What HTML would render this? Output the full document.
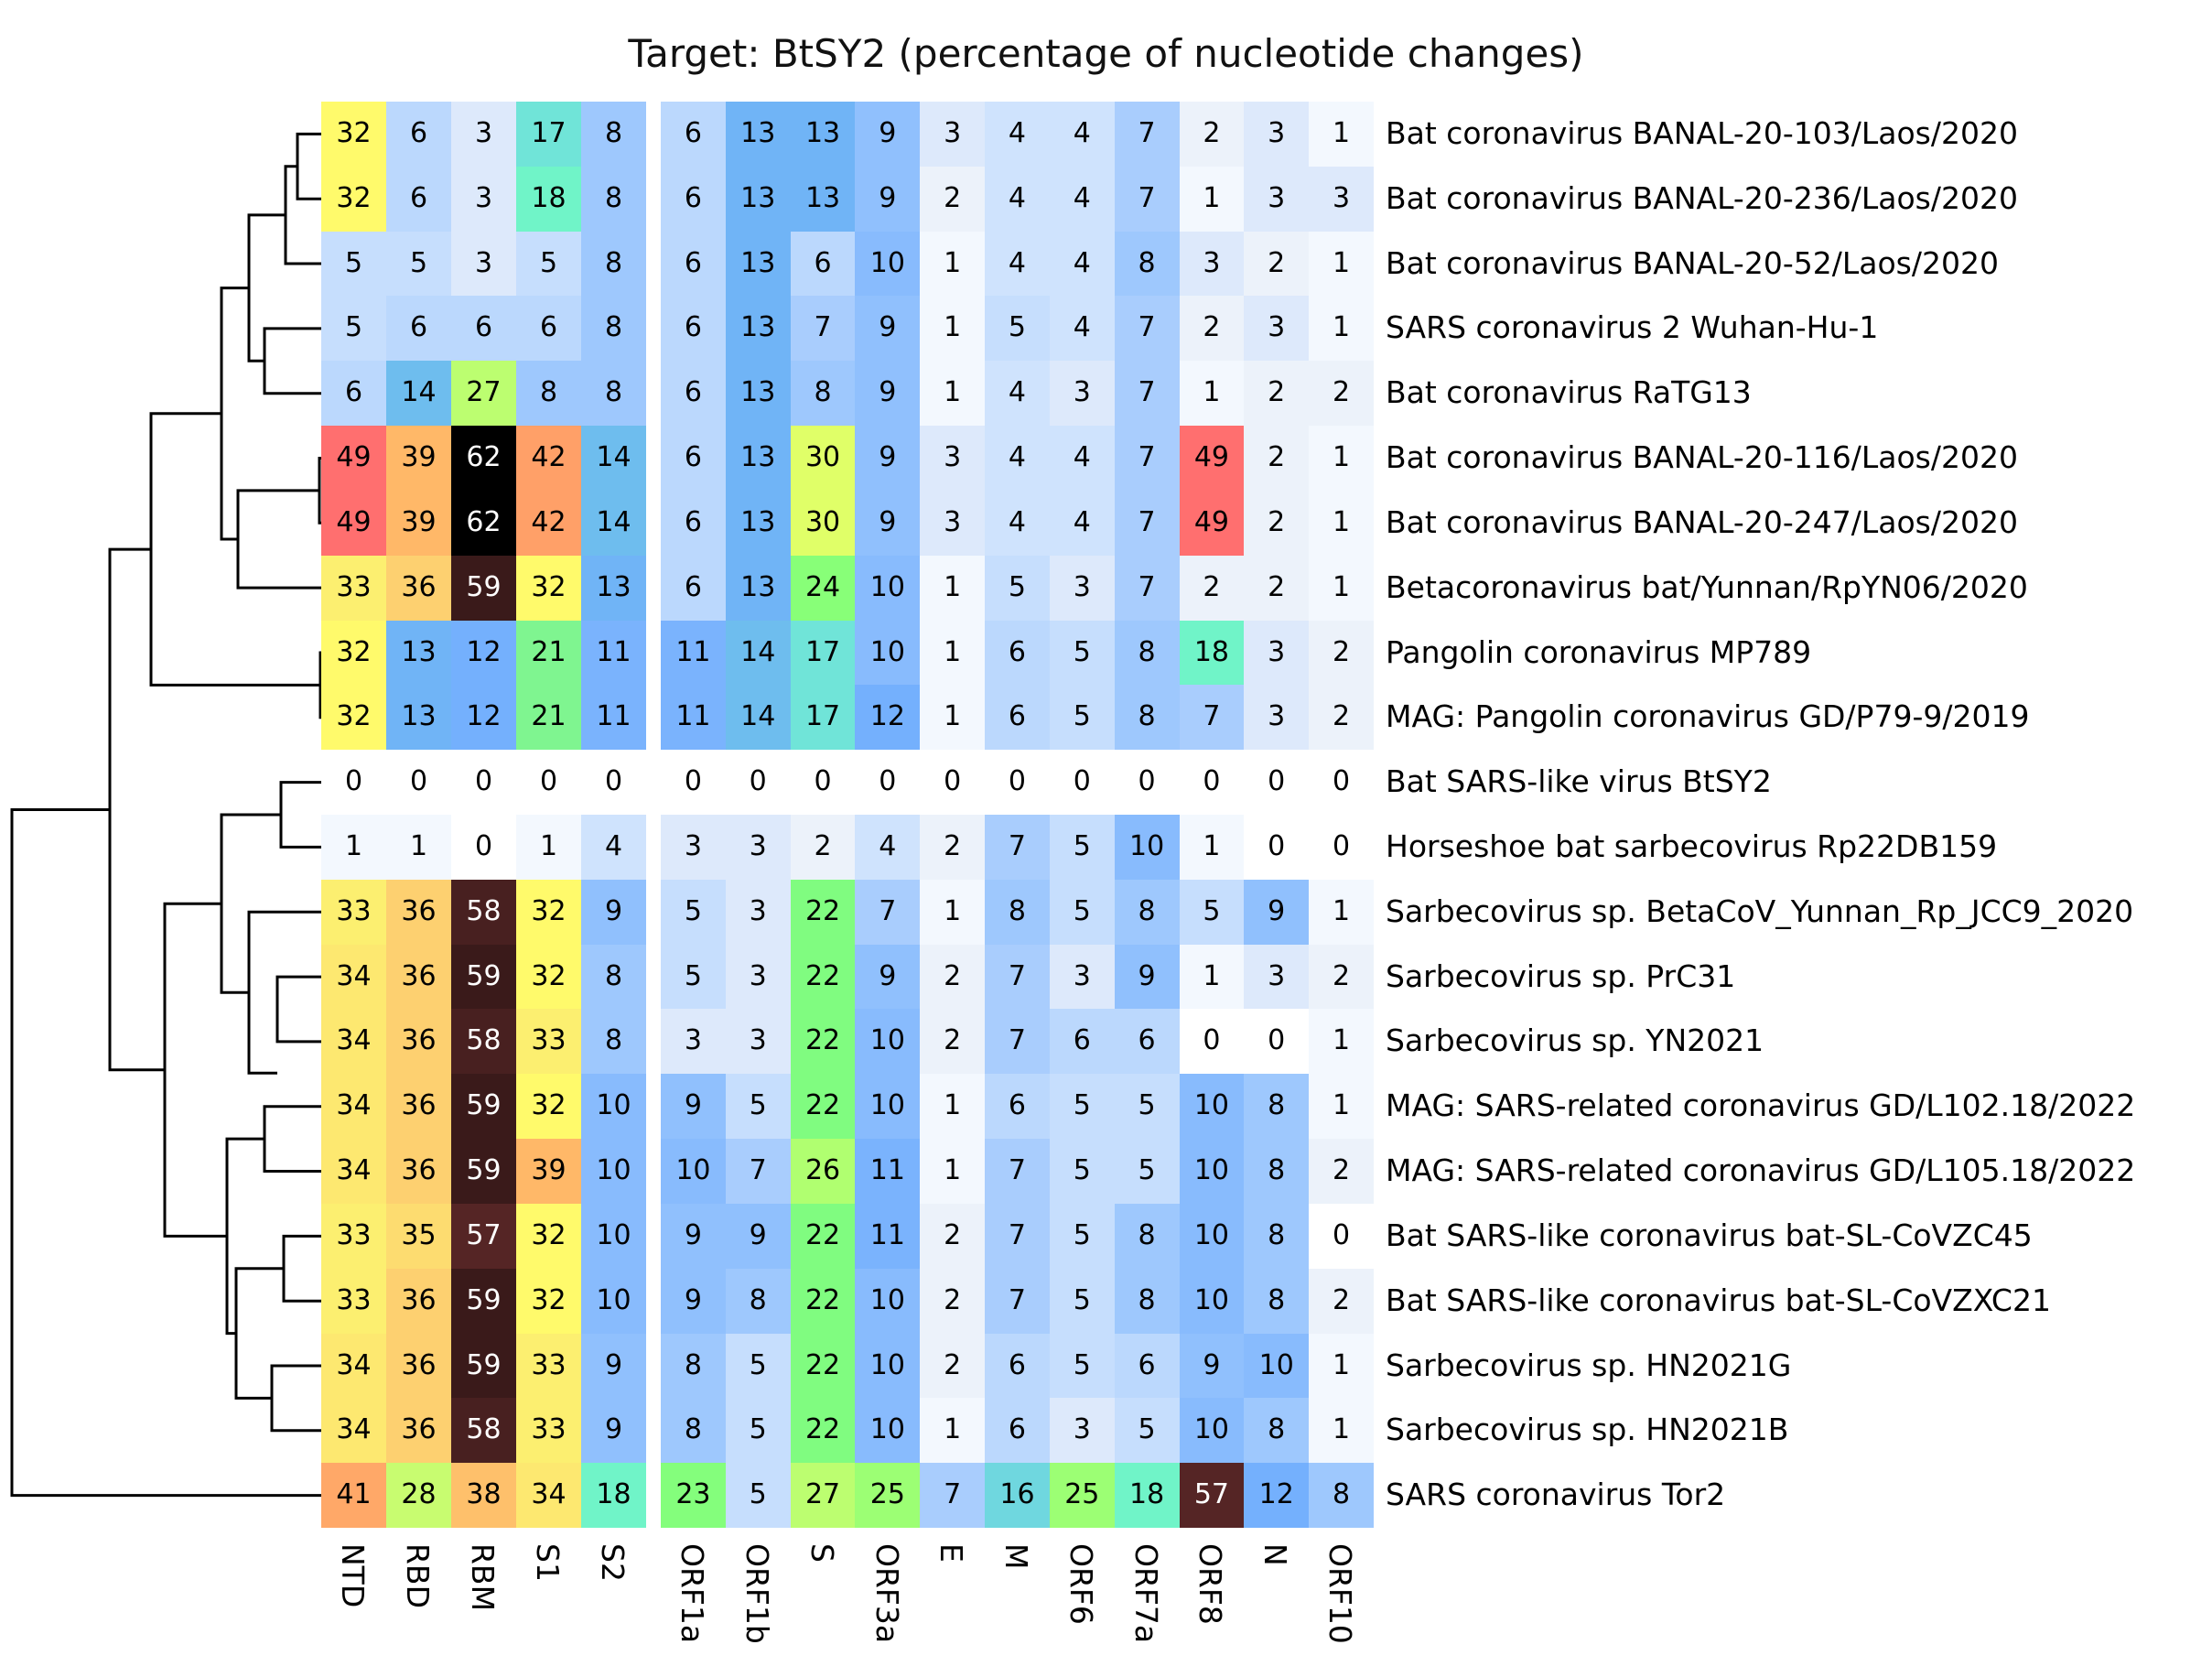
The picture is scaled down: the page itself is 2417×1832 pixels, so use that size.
<!DOCTYPE html>
<html><head><meta charset="utf-8"><style>
body{margin:0;width:2417px;height:1832px;background:#fff;position:relative;overflow:hidden;font-family:"DejaVu Sans","Liberation Sans",sans-serif}
.title{position:absolute;left:0;width:2417px;top:34px;text-align:center;font-size:42px;color:#111}
.row{position:absolute;left:351px;height:70.82px;display:flex}
.row i{font-style:normal;display:block;height:100%;line-height:70.82px;text-align:center;font-size:30px;color:#000;width:70.82px}
.row i:nth-child(-n+5){width:71px}
.row i:nth-child(6){margin-left:16px}
.lab{position:absolute;left:1514px;height:70.82px;line-height:70.82px;font-size:33px;color:#000;white-space:nowrap}
.col{position:absolute;top:1686px;font-size:33px;transform-origin:0 0;transform:rotate(90deg);white-space:nowrap}
</style></head><body>
<div class="title">Target: BtSY2 (percentage of nucleotide changes)</div>
<svg width="2417" height="1832" style="position:absolute;left:0;top:0">
<path fill="none" stroke="#000" stroke-width="3" d="
M351,146.4H325V217.2H351 M325,181.8H312V288H351
M351,358.9H289V429.7H351 M312,234.9H272V394.3H289
M351,500.5H349V571.3H351 M349,535.9H260V642.1H351
M272,314.6H242V589H260
M351,713H350V783.8H351 M242,451.8H165V748.4H350
M351,854.6H307V925.4H351
M351,1067.1H303V1137.9H351 M351,996.3H272V1172.3H303
M307,890H242V1084.3H272
M351,1208.7H289V1279.5H351
M351,1350.4H310V1421.2H351
M351,1492H297V1562.8H351
M310,1385.8H258V1527.4H297
M289,1244.1H248V1456.6H258
M242,987.2H180V1350.4H248
M165,600.1H120V1168.8H180
M120,884.5H13V1633.6H351"/>
</svg>
<div id="rows">
<div class="row" style="top:111px"><i>32</i><i>6</i><i>3</i><i>17</i><i>8</i><i>6</i><i>13</i><i>13</i><i>9</i><i>3</i><i>4</i><i>4</i><i>7</i><i>2</i><i>3</i><i>1</i></div>
<div class="row" style="top:181.82px"><i>32</i><i>6</i><i>3</i><i>18</i><i>8</i><i>6</i><i>13</i><i>13</i><i>9</i><i>2</i><i>4</i><i>4</i><i>7</i><i>1</i><i>3</i><i>3</i></div>
<div class="row" style="top:252.64px"><i>5</i><i>5</i><i>3</i><i>5</i><i>8</i><i>6</i><i>13</i><i>6</i><i>10</i><i>1</i><i>4</i><i>4</i><i>8</i><i>3</i><i>2</i><i>1</i></div>
<div class="row" style="top:323.46px"><i>5</i><i>6</i><i>6</i><i>6</i><i>8</i><i>6</i><i>13</i><i>7</i><i>9</i><i>1</i><i>5</i><i>4</i><i>7</i><i>2</i><i>3</i><i>1</i></div>
<div class="row" style="top:394.28px"><i>6</i><i>14</i><i>27</i><i>8</i><i>8</i><i>6</i><i>13</i><i>8</i><i>9</i><i>1</i><i>4</i><i>3</i><i>7</i><i>1</i><i>2</i><i>2</i></div>
<div class="row" style="top:465.1px"><i>49</i><i>39</i><i>62</i><i>42</i><i>14</i><i>6</i><i>13</i><i>30</i><i>9</i><i>3</i><i>4</i><i>4</i><i>7</i><i>49</i><i>2</i><i>1</i></div>
<div class="row" style="top:535.92px"><i>49</i><i>39</i><i>62</i><i>42</i><i>14</i><i>6</i><i>13</i><i>30</i><i>9</i><i>3</i><i>4</i><i>4</i><i>7</i><i>49</i><i>2</i><i>1</i></div>
<div class="row" style="top:606.74px"><i>33</i><i>36</i><i>59</i><i>32</i><i>13</i><i>6</i><i>13</i><i>24</i><i>10</i><i>1</i><i>5</i><i>3</i><i>7</i><i>2</i><i>2</i><i>1</i></div>
<div class="row" style="top:677.56px"><i>32</i><i>13</i><i>12</i><i>21</i><i>11</i><i>11</i><i>14</i><i>17</i><i>10</i><i>1</i><i>6</i><i>5</i><i>8</i><i>18</i><i>3</i><i>2</i></div>
<div class="row" style="top:748.38px"><i>32</i><i>13</i><i>12</i><i>21</i><i>11</i><i>11</i><i>14</i><i>17</i><i>12</i><i>1</i><i>6</i><i>5</i><i>8</i><i>7</i><i>3</i><i>2</i></div>
<div class="row" style="top:819.2px"><i>0</i><i>0</i><i>0</i><i>0</i><i>0</i><i>0</i><i>0</i><i>0</i><i>0</i><i>0</i><i>0</i><i>0</i><i>0</i><i>0</i><i>0</i><i>0</i></div>
<div class="row" style="top:890.02px"><i>1</i><i>1</i><i>0</i><i>1</i><i>4</i><i>3</i><i>3</i><i>2</i><i>4</i><i>2</i><i>7</i><i>5</i><i>10</i><i>1</i><i>0</i><i>0</i></div>
<div class="row" style="top:960.84px"><i>33</i><i>36</i><i>58</i><i>32</i><i>9</i><i>5</i><i>3</i><i>22</i><i>7</i><i>1</i><i>8</i><i>5</i><i>8</i><i>5</i><i>9</i><i>1</i></div>
<div class="row" style="top:1031.66px"><i>34</i><i>36</i><i>59</i><i>32</i><i>8</i><i>5</i><i>3</i><i>22</i><i>9</i><i>2</i><i>7</i><i>3</i><i>9</i><i>1</i><i>3</i><i>2</i></div>
<div class="row" style="top:1102.48px"><i>34</i><i>36</i><i>58</i><i>33</i><i>8</i><i>3</i><i>3</i><i>22</i><i>10</i><i>2</i><i>7</i><i>6</i><i>6</i><i>0</i><i>0</i><i>1</i></div>
<div class="row" style="top:1173.3px"><i>34</i><i>36</i><i>59</i><i>32</i><i>10</i><i>9</i><i>5</i><i>22</i><i>10</i><i>1</i><i>6</i><i>5</i><i>5</i><i>10</i><i>8</i><i>1</i></div>
<div class="row" style="top:1244.12px"><i>34</i><i>36</i><i>59</i><i>39</i><i>10</i><i>10</i><i>7</i><i>26</i><i>11</i><i>1</i><i>7</i><i>5</i><i>5</i><i>10</i><i>8</i><i>2</i></div>
<div class="row" style="top:1314.94px"><i>33</i><i>35</i><i>57</i><i>32</i><i>10</i><i>9</i><i>9</i><i>22</i><i>11</i><i>2</i><i>7</i><i>5</i><i>8</i><i>10</i><i>8</i><i>0</i></div>
<div class="row" style="top:1385.76px"><i>33</i><i>36</i><i>59</i><i>32</i><i>10</i><i>9</i><i>8</i><i>22</i><i>10</i><i>2</i><i>7</i><i>5</i><i>8</i><i>10</i><i>8</i><i>2</i></div>
<div class="row" style="top:1456.58px"><i>34</i><i>36</i><i>59</i><i>33</i><i>9</i><i>8</i><i>5</i><i>22</i><i>10</i><i>2</i><i>6</i><i>5</i><i>6</i><i>9</i><i>10</i><i>1</i></div>
<div class="row" style="top:1527.4px"><i>34</i><i>36</i><i>58</i><i>33</i><i>9</i><i>8</i><i>5</i><i>22</i><i>10</i><i>1</i><i>6</i><i>3</i><i>5</i><i>10</i><i>8</i><i>1</i></div>
<div class="row" style="top:1598.22px"><i>41</i><i>28</i><i>38</i><i>34</i><i>18</i><i>23</i><i>5</i><i>27</i><i>25</i><i>7</i><i>16</i><i>25</i><i>18</i><i>57</i><i>12</i><i>8</i></div>
</div>
<div class="lab" style="top:111px">Bat coronavirus BANAL-20-103/Laos/2020</div>
<div class="lab" style="top:181.82px">Bat coronavirus BANAL-20-236/Laos/2020</div>
<div class="lab" style="top:252.64px">Bat coronavirus BANAL-20-52/Laos/2020</div>
<div class="lab" style="top:323.46px">SARS coronavirus 2 Wuhan-Hu-1</div>
<div class="lab" style="top:394.28px">Bat coronavirus RaTG13</div>
<div class="lab" style="top:465.1px">Bat coronavirus BANAL-20-116/Laos/2020</div>
<div class="lab" style="top:535.92px">Bat coronavirus BANAL-20-247/Laos/2020</div>
<div class="lab" style="top:606.74px">Betacoronavirus bat/Yunnan/RpYN06/2020</div>
<div class="lab" style="top:677.56px">Pangolin coronavirus MP789</div>
<div class="lab" style="top:748.38px">MAG: Pangolin coronavirus GD/P79-9/2019</div>
<div class="lab" style="top:819.2px">Bat SARS-like virus BtSY2</div>
<div class="lab" style="top:890.02px">Horseshoe bat sarbecovirus Rp22DB159</div>
<div class="lab" style="top:960.84px">Sarbecovirus sp. BetaCoV_Yunnan_Rp_JCC9_2020</div>
<div class="lab" style="top:1031.66px">Sarbecovirus sp. PrC31</div>
<div class="lab" style="top:1102.48px">Sarbecovirus sp. YN2021</div>
<div class="lab" style="top:1173.3px">MAG: SARS-related coronavirus GD/L102.18/2022</div>
<div class="lab" style="top:1244.12px">MAG: SARS-related coronavirus GD/L105.18/2022</div>
<div class="lab" style="top:1314.94px">Bat SARS-like coronavirus bat-SL-CoVZC45</div>
<div class="lab" style="top:1385.76px">Bat SARS-like coronavirus bat-SL-CoVZXC21</div>
<div class="lab" style="top:1456.58px">Sarbecovirus sp. HN2021G</div>
<div class="lab" style="top:1527.4px">Sarbecovirus sp. HN2021B</div>
<div class="lab" style="top:1598.22px">SARS coronavirus Tor2</div>
<div class="col" style="left:405px">NTD</div>
<div class="col" style="left:476px">RBD</div>
<div class="col" style="left:547px">RBM</div>
<div class="col" style="left:618px">S1</div>
<div class="col" style="left:689px">S2</div>
<div class="col" style="left:776px">ORF1a</div>
<div class="col" style="left:847px">ORF1b</div>
<div class="col" style="left:918px">S</div>
<div class="col" style="left:989px">ORF3a</div>
<div class="col" style="left:1059px">E</div>
<div class="col" style="left:1130px">M</div>
<div class="col" style="left:1201px">ORF6</div>
<div class="col" style="left:1272px">ORF7a</div>
<div class="col" style="left:1342px">ORF8</div>
<div class="col" style="left:1413px">N</div>
<div class="col" style="left:1484px">ORF10</div>
<script>
var A=[[0,'ffffff'],[1,'f3f8fe'],[2,'ecf2fa'],[3,'dde9fb'],[4,'cfe3fd'],[5,'c6defd'],[6,'bbd8fd'],[7,'a9cdfd'],[8,'9ec8fd'],[9,'90c0fd'],[10,'88bbfd'],[11,'7ab3fd'],[12,'74b0fd'],[13,'70b4f6'],[14,'6ebdee'],[17,'70e4d8'],[18,'70f4c8'],[21,'7ff590'],[22,'80fc80'],[24,'88ff78'],[26,'b0ff70'],[28,'c8fc70'],[30,'e0ff68'],[32,'fffa6b'],[33,'fcef70'],[34,'fde870'],[36,'fdd070'],[39,'ffb868'],[42,'ffa068'],[49,'ff6f6f'],[57,'552525'],[59,'3a1a1a'],[62,'000000']];
function h(s,i){return parseInt(s.substr(i,2),16)}
function col(v){for(var k=0;k<A.length-1;k++){var a=A[k],b=A[k+1];if(v>=a[0]&&v<=b[0]){var t=(v-a[0])/(b[0]-a[0]);var c=[0,2,4].map(function(i){return Math.round(h(a[1],i)+(h(b[1],i)-h(a[1],i))*t)});return 'rgb('+c.join(',')+')'}}return '#000'}
document.querySelectorAll('.row i').forEach(function(e){var v=+e.textContent;e.style.background=col(v);if(v>=55)e.style.color='#fff'});
</script>
</body></html>
